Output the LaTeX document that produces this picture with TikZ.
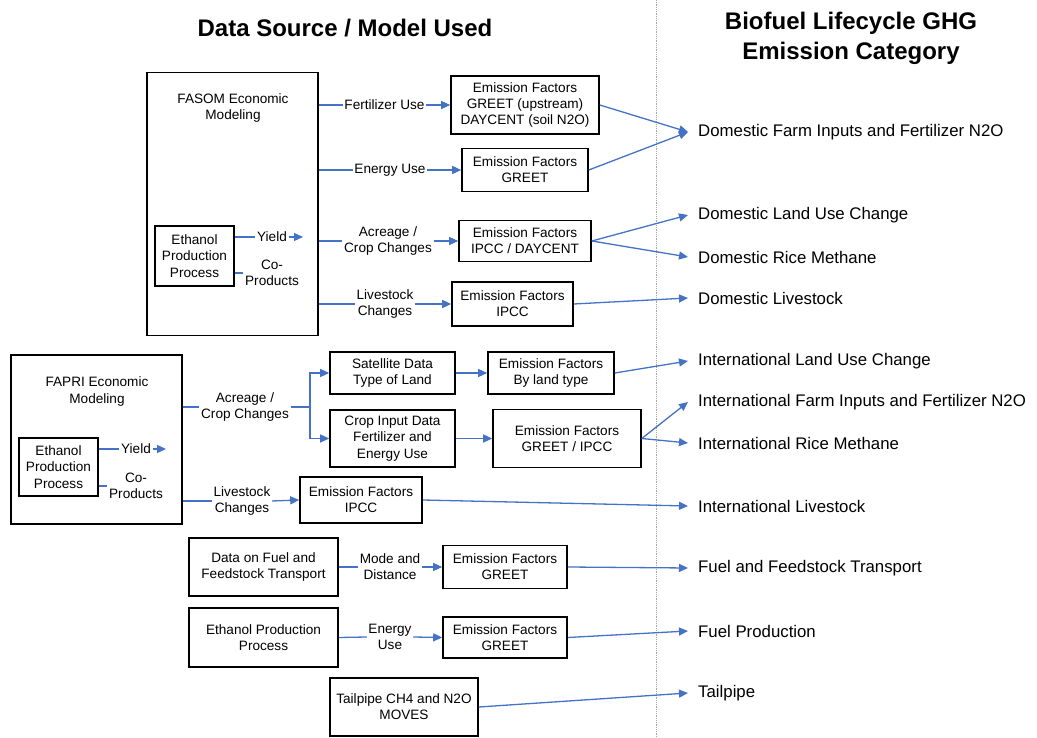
\documentclass[tikz,border=0pt]{standalone}
\usepackage{fontspec}
\setmainfont{Liberation Sans}
\usetikzlibrary{arrows.meta,calc}
\definecolor{arrowblue}{RGB}{68,114,196}
\newcommand{\boxfont}{\fontsize{13.6}{16.2}\selectfont}
\newcommand{\catfont}{\fontsize{16.8}{20}\selectfont}
\newcommand{\ttlfont}{\fontsize{24}{30}\selectfont\bfseries}
\begin{document}
\begin{tikzpicture}[x=1pt,y=-1pt,
  bx/.style={draw, line width=1.6pt, align=center, font=\boxfont, inner sep=0pt},
  lbl/.style={align=center, font=\boxfont, inner sep=1.5pt},
  cat/.style={anchor=west, font=\catfont, inner xsep=10pt, inner ysep=0pt},
  conn/.style={draw=arrowblue, line width=1.3pt},
  arr/.style={conn, -{Triangle[length=9pt,width=8pt]}},
  ttl/.style={align=center, font=\ttlfont, inner sep=0pt}]
\useasboundingbox (0,0) rectangle (1037,738);
% titles
\node[ttl] (t1) at (345,28) {Data Source / Model Used};
\node[ttl] (t2) at (851,38) {Biofuel Lifecycle GHG\\Emission Category};
\draw[gray!70, densely dotted, line width=0.8pt] (656,0) -- (656,738);

% FASOM block
\node[bx, minimum width=171, minimum height=263] (fasom) at (232.5,204) {};
\node[lbl] (fasomt) at (233,108) {FASOM Economic\\Modeling};
\node[bx, minimum width=79, minimum height=60] (eth1) at (194.5,256) {Ethanol\\Production\\Process};
\node[lbl] (yield1) at (272,237) {Yield};
\coordinate (y1e) at (303,237);
\node[lbl] (co1) at (272,273) {Co-\\Products};
\draw[conn] (eth1.east |- yield1.west) -- (yield1.west);
\draw[arr] (yield1.east) -- (y1e);
\draw[conn] (eth1.east |- co1.west) -- (co1.west);

\node[lbl] (fert) at (384.5,105) {Fertilizer Use};
\node[bx, minimum width=148, minimum height=58] (ef1) at (525,105) {Emission Factors\\GREET (upstream)\\DAYCENT (soil N2O)};
\node[lbl] (energy) at (390,170) {Energy Use};
\node[bx, minimum width=126, minimum height=43] (ef2) at (525,170) {Emission Factors\\GREET};
\node[lbl] (acre) at (388,241) {Acreage /\\Crop Changes};
\node[bx, minimum width=132, minimum height=41] (ef3) at (525,241) {Emission Factors\\IPCC / DAYCENT};
\node[lbl] (live) at (385,304) {Livestock\\Changes};
\node[bx, minimum width=121, minimum height=44] (ef4) at (512.5,304) {Emission Factors\\IPCC};
\foreach \l/\e in {fert/ef1, energy/ef2, acre/ef3, live/ef4} {
  \draw[conn] (fasom.east |- \l.west) -- (\l.west);
  \draw[arr] (\l.east) -- (\e.west);
}

% categories
\node[cat] (c1) at (688,132) {Domestic Farm Inputs and Fertilizer N2O};
\node[cat] (c2) at (688,215) {Domestic Land Use Change};
\node[cat] (c3) at (688,257) {Domestic Rice Methane};
\node[cat] (c4) at (688,298) {Domestic Livestock};
\node[cat] (c5) at (688,361) {International Land Use Change};
\node[cat] (c6) at (688,402) {International Farm Inputs and Fertilizer N2O};
\node[cat] (c7) at (688,443) {International Rice Methane};
\node[cat] (c8) at (688,506) {International Livestock};
\node[cat] (c9) at (688,568) {Fuel and Feedstock Transport};
\node[cat] (c10) at (688,631) {Fuel Production};
\node[cat] (c11) at (688,693) {Tailpipe};

\draw[arr] (ef1.east) -- (c1.west);
\draw[arr] (ef2.east) -- (c1.west);
\draw[arr] (ef3.east) -- (c2.west);
\draw[arr] (ef3.east) -- (c3.west);
\draw[arr] (ef4.east) -- (c4.west);

% FAPRI block
\node[bx, minimum width=171, minimum height=169] (fapri) at (96.5,439.5) {};
\node[lbl] (faprit) at (97,391.5) {FAPRI Economic\\Modeling};
\node[bx, minimum width=79, minimum height=58] (eth2) at (58.5,467) {Ethanol\\Production\\Process};
\node[lbl] (yield2) at (136,449) {Yield};
\coordinate (y2e) at (166,449);
\node[lbl] (co2) at (136,486) {Co-\\Products};
\draw[conn] (eth2.east |- yield2.west) -- (yield2.west);
\draw[arr] (yield2.east) -- (y2e);
\draw[conn] (eth2.east |- co2.west) -- (co2.west);

\node[lbl] (acre2) at (245,407) {Acreage /\\Crop Changes};
\coordinate (br) at (310,407);
\node[bx, minimum width=125, minimum height=42] (sat) at (392.5,373) {Satellite Data\\Type of Land};
\node[bx, minimum width=125, minimum height=57] (crop) at (392.5,438.5) {Crop Input Data\\Fertilizer and\\Energy Use};
\node[bx, minimum width=126, minimum height=42] (ef5) at (551,373) {Emission Factors\\By land type};
\node[bx, minimum width=148, minimum height=58] (ef6) at (567,438.5) {Emission Factors\\GREET / IPCC};
\draw[conn] (fapri.east |- acre2.west) -- (acre2.west);
\draw[conn] (acre2.east) -- (br);
\draw[arr] (br) |- (sat.west);
\draw[arr] (br) |- (crop.west);
\draw[arr] (sat.east) -- (ef5.west);
\draw[arr] (crop.east) -- (ef6.west);
\draw[arr] (ef5.east) -- (c5.west);
\draw[arr] (ef6.east) -- (c6.west);
\draw[arr] (ef6.east) -- (c7.west);

\node[lbl] (live2) at (242,501) {Livestock\\Changes};
\node[bx, minimum width=122, minimum height=46] (ef7) at (361,500) {Emission Factors\\IPCC};
\draw[conn] (fapri.east |- live2.west) -- (live2.west);
\draw[arr] (live2.east) -- (ef7.west);
\draw[arr] (ef7.east) -- (c8.west);

% transport
\node[bx, minimum width=149, minimum height=58] (trans) at (263.5,567) {Data on Fuel and\\Feedstock Transport};
\node[lbl] (mode) at (390,567) {Mode and\\Distance};
\node[bx, minimum width=124, minimum height=43] (ef8) at (505,567) {Emission Factors\\GREET};
\draw[conn] (trans.east) -- (mode.west);
\draw[arr] (mode.east) -- (ef8.west);
\draw[arr] (ef8.east) -- (c9.west);

% fuel production
\node[bx, minimum width=149, minimum height=59] (ethp) at (263.5,637.5) {Ethanol Production\\Process};
\node[lbl] (enu) at (390,637) {Energy\\Use};
\node[bx, minimum width=124, minimum height=41] (ef9) at (505,637.5) {Emission Factors\\GREET};
\draw[conn] (ethp.east) -- (enu.west);
\draw[arr] (enu.east) -- (ef9.west);
\draw[arr] (ef9.east) -- (c10.west);

% tailpipe
\node[bx, minimum width=148, minimum height=58] (tail) at (404,707) {Tailpipe CH4 and N2O\\MOVES};
\draw[arr] (tail.east) -- (c11.west);
\end{tikzpicture}
\end{document}
